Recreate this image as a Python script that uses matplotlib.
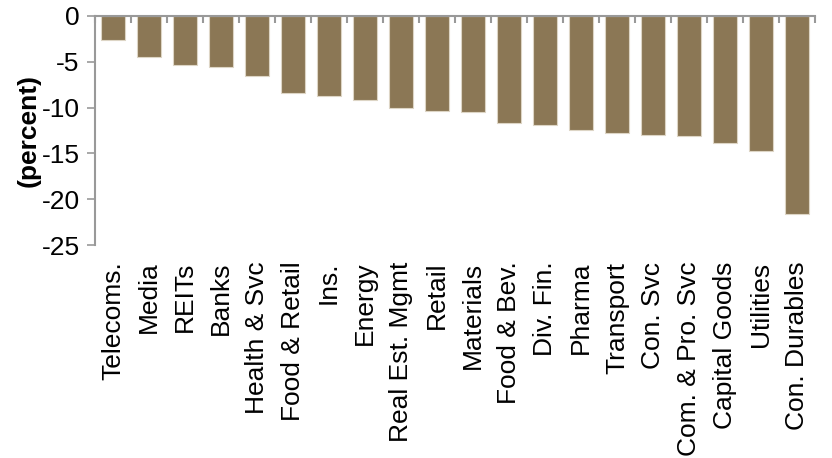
import numpy as np
import matplotlib.pyplot as plt

#======data=========#
sectors = ["Telecoms.", "Media", "REITs", "Banks", "Health & Svc", "Food & Retail",
           "Ins.", "Energy", "Real Est. Mgmt", "Retail", "Materials", "Food & Bev.",
           "Div. Fin.", "Pharma", "Transport", "Con. Svc", "Com. & Pro. Svc",
           "Capital Goods", "Utilities", "Con. Durables"]
change = [-2.6, -4.5, -5.3, -5.6, -6.6, -8.4, -8.7, -9.2, -10.0, -10.4, -10.5,
          -11.7, -11.9, -12.4, -12.8, -13.0, -13.1, -13.9, -14.7, -21.6]
yticks = [0, -5, -10, -15, -20, -25]

plt.rcParams['font.family'] = ['Liberation Sans', 'DejaVu Sans']
axis_grey = '#999999'

fig = plt.figure(figsize=(8.32, 4.58), dpi=100)
ax = fig.add_axes([0.1142, 0.465, 0.8654, 0.5001])

x = np.arange(len(sectors))
ax.bar(x, change, width=0.67, color='#8b7755', edgecolor='#ddd5c5', linewidth=0.8, zorder=2)

ax.set_xlim(-0.5, len(sectors) - 0.5)
ax.set_ylim(-25, 0)
ax.set_yticks(yticks)
ax.set_yticklabels([str(v) for v in yticks], fontsize=19)

ax.set_xticks(x)
ax.set_xticklabels(sectors, rotation=90, ha='center', va='top', fontsize=19)
ax.set_xticks(np.arange(len(sectors) + 1) - 0.5, minor=True)
ax.tick_params(axis='x', which='major', bottom=True, top=False, length=0, pad=12)
ax.tick_params(axis='x', which='minor', bottom=False, top=True, direction='in',
               length=5, width=1.5, color=axis_grey)
ax.tick_params(axis='y', which='major', direction='out', length=6, width=1.2,
               color=axis_grey, pad=5)

for s in ['right', 'bottom']:
    ax.spines[s].set_visible(False)
for s in ['top', 'left']:
    ax.spines[s].set_color(axis_grey)
    ax.spines[s].set_linewidth(1.5)
ax.spines['top'].set_zorder(3)

# y label sits over the tick labels
fig.text(0.034, 0.716, "(percent)", rotation=90, ha='center', va='center',
         fontsize=19, fontweight='bold')

plt.savefig("out.png", dpi=100)
